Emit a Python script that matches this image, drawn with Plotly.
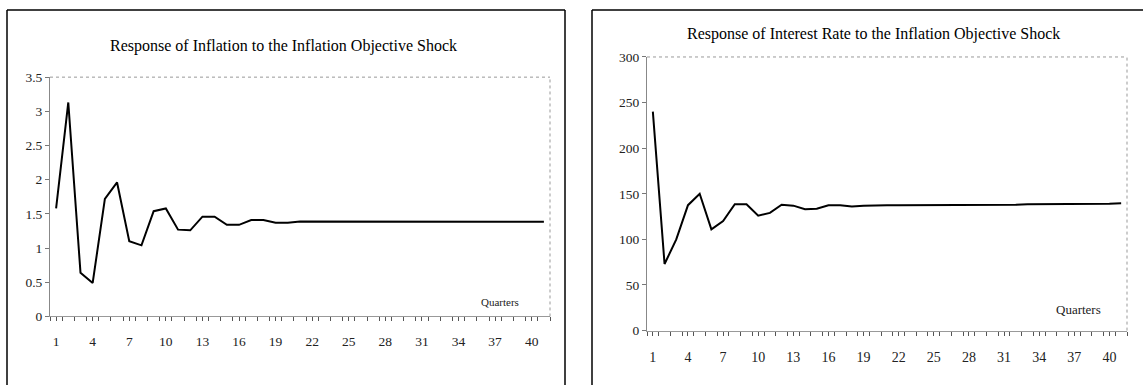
import plotly.graph_objects as go

# Impulse responses over 41 quarters
quarters = list(range(1, 42))
inflation = [1.58, 3.13, 0.64, 0.49, 1.72, 1.96, 1.10, 1.04, 1.54, 1.58,
             1.27, 1.26, 1.46, 1.46, 1.34, 1.34, 1.41, 1.41, 1.37, 1.37,
             1.39, 1.39, 1.39, 1.39, 1.385, 1.385, 1.385, 1.385, 1.39, 1.385,
             1.385, 1.385, 1.39, 1.385, 1.385, 1.385, 1.385, 1.385, 1.385, 1.385,
             1.385]
interest = [240, 73, 100, 137.5, 150, 111, 120, 138.5, 138.5, 126,
            129, 138, 137, 133, 133.5, 137.5, 137.5, 136, 137, 137.5,
            137.5, 137.5, 137.5, 138, 138, 138, 138, 138, 138, 138,
            138, 138, 138.5, 138.5, 138.5, 138.5, 138.5, 138.5, 139, 139,
            139.5]

x_labels = list(range(1, 41, 3))
infl_ticks = [0, 0.5, 1, 1.5, 2, 2.5, 3, 3.5]
infl_tick_text = ["0", "0.5", "1", "1.5", "2", "2.5", "3", "3.5"]
rate_ticks = [0, 50, 100, 150, 200, 250, 300]

titles = ["Response of Inflation to the Inflation Objective Shock",
          "Response of Interest Rate to the Inflation Objective Shock"]

W, H = 1143, 385
FONT = "Liberation Serif, Times New Roman, serif"


def px_x(p):
    return p / W


def px_y(p):
    return 1 - p / H


fig = go.Figure()
fig.add_trace(go.Scatter(x=quarters, y=inflation, mode="lines",
                         line=dict(color="black", width=2),
                         xaxis="x", yaxis="y", showlegend=False))
fig.add_trace(go.Scatter(x=quarters, y=interest, mode="lines",
                         line=dict(color="black", width=2),
                         xaxis="x2", yaxis="y2", showlegend=False))


def xaxis_style(size, standoff):
    return dict(range=[0.5, 41.5], tickvals=x_labels, ticks="outside", ticklen=4,
                tickcolor="#555", showgrid=False, zeroline=False,
                showline=True, linecolor="#999", linewidth=1,
                tickfont=dict(family=FONT, size=size, color="#222"),
                ticklabelstandoff=standoff,
                minor=dict(tickvals=[q + 0.5 for q in range(0, 42)], ticks="outside",
                           ticklen=4, tickcolor="#555"))


ycommon = dict(ticks="outside", ticklen=4, tickcolor="#777", showgrid=False,
               zeroline=False, showline=True, linecolor="#888", linewidth=1,
               tickfont=dict(family=FONT, size=13.5, color="#222"))

fig.update_layout(
    width=W, height=H, margin=dict(l=0, r=0, t=0, b=0),
    paper_bgcolor="white", plot_bgcolor="white",
    xaxis=dict(domain=[px_x(50), px_x(550)], anchor="y", **xaxis_style(13.5, 8)),
    yaxis=dict(domain=[px_y(322), px_y(73)], anchor="x", range=[0, 3.5],
               tickvals=infl_ticks, ticktext=infl_tick_text, **ycommon),
    xaxis2=dict(domain=[px_x(647), px_x(1127)], anchor="y2", **xaxis_style(14, 10)),
    yaxis2=dict(domain=[px_y(336.7), px_y(52)], anchor="x2", range=[0, 300],
                tickvals=rate_ticks, **ycommon),
)

# Panel frames (left, top and right edges; the bottom runs off the page)
for left, right in ((7, 565), (592, 1150)):
    for x0, y0, x1, y1 in ((left, 3, left, 400), (left, 3, right, 3), (right, 3, right, 400)):
        fig.add_shape(type="line", xref="paper", yref="paper",
                      x0=px_x(x0), y0=px_y(y0), x1=px_x(x1), y1=px_y(y1),
                      line=dict(color="black", width=1.5))

# Faint plot-area borders (top and right)
for xr, yr in (("x domain", "y domain"), ("x2 domain", "y2 domain")):
    fig.add_shape(type="line", xref=xr, yref=yr, x0=0, x1=1, y0=1, y1=1,
                  line=dict(color="#999", width=1, dash="dot"))
    fig.add_shape(type="line", xref=xr, yref=yr, x0=1, x1=1, y0=0, y1=1,
                  line=dict(color="#999", width=1, dash="dot"))

# Chart titles
fig.add_annotation(text=titles[0], xref="paper", yref="paper",
                   x=px_x(283), y=px_y(41), showarrow=False,
                   xanchor="center", yanchor="middle",
                   font=dict(family=FONT, size=16, color="black"))
fig.add_annotation(text=titles[1], xref="paper", yref="paper",
                   x=px_x(873), y=px_y(28), showarrow=False,
                   xanchor="center", yanchor="middle",
                   font=dict(family=FONT, size=16, color="black"))

# Axis captions
fig.add_annotation(text="Quarters", xref="paper", yref="paper",
                   x=px_x(500), y=px_y(307), showarrow=False,
                   xanchor="center", yanchor="middle",
                   font=dict(family=FONT, size=11, color="#222"))
fig.add_annotation(text="Quarters", xref="paper", yref="paper",
                   x=px_x(1078), y=px_y(315), showarrow=False,
                   xanchor="center", yanchor="middle",
                   font=dict(family=FONT, size=13, color="#222"))

fig.write_html("out.html")
